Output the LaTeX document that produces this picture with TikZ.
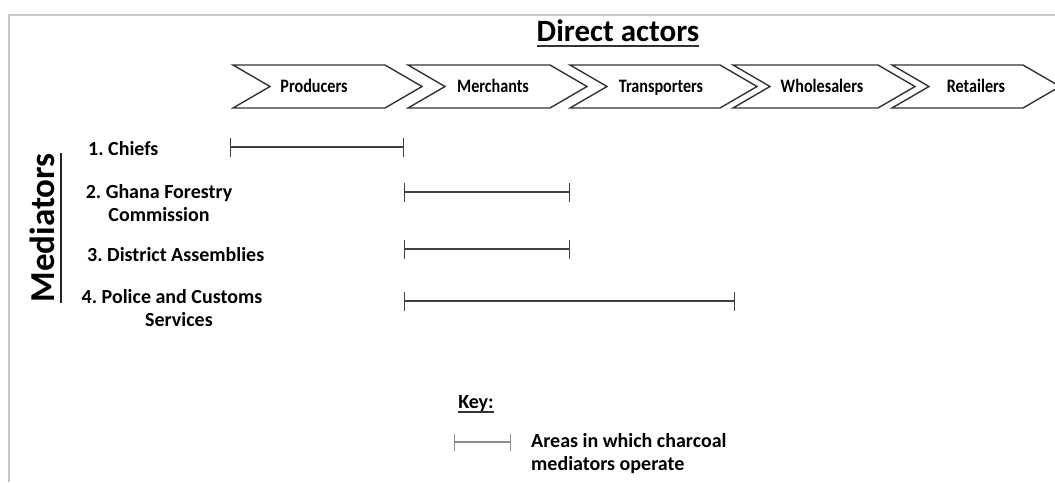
\documentclass[tikz,border=0pt]{standalone}
\usepackage{fontspec}
\setmainfont{Carlito}
\usepackage{tikz}
\usetikzlibrary{arrows.meta}
\frenchspacing

\begin{document}
\begin{tikzpicture}[x=1pt,y=-1pt,font=\bfseries,
actorbox/.style={draw=black!80, line width=1.4pt, line join=miter},
actor/.style={font=\bfseries\fontsize{19}{21}\selectfont, inner sep=0pt, anchor=base},
medlabel/.style={font=\bfseries\fontsize{20}{23}\selectfont, inner sep=0pt},
reach/.style={{Bar[width=19pt]}-{Bar[width=19pt]}, line width=1.1pt, draw=black!75},
head/.style={inner sep=0pt, anchor=base}]
\useasboundingbox (0,0) rectangle (1055,482);
% frame
\draw[black!22, line width=1.5pt] (9,482) -- (9,15) -- (1055,15);
% title
\node[head, font=\bfseries\fontsize{31}{36}\selectfont] (direct) at (618,41) {Direct actors};
\draw[line width=2.4pt, black!80] ([yshift=-5pt]direct.base west) -- ([yshift=-5pt]direct.base east);
% chevrons of the direct actors
\foreach \l/\r/\t/\name/\txt in {233/385/314/prod/Producers, 408/550/493/merch/Merchants,
    570/720/661/trans/Transporters, 733/878/822/whole/Wholesalers, 892/1023/976/retail/Retailers}{
  \draw[actorbox] (\l,65) -- (\r,65) -- (\r+37,86.5) -- (\r,108) -- (\l,108) -- (\l+37,86.5) -- cycle;
  \coordinate (\name-l) at (\l,65);
  \node[actor] (\name) at (\t,92) {\scalebox{0.85}[1]{\txt}};
}
% mediators
\node[head, rotate=90, font=\bfseries\fontsize{35}{40}\selectfont] (med) at (54,228) {Mediators};
\draw[line width=2.4pt, black!85] ([xshift=7pt]med.base west) -- ([xshift=7pt]med.base east);
\node[medlabel, anchor=west] (chiefs) at (88,149) {1. Chiefs};
\node[medlabel, align=center] (forestry) at (159,203) {2. Ghana Forestry\\Commission};
\node[medlabel, anchor=west] (district) at (87,255) {3. District Assemblies};
\node[medlabel, align=center] (police) at (172,308) {4. Police and Customs\\\hspace*{14pt}Services};
% areas of operation
\coordinate (chiefs-a) at (230,147);
\coordinate (chiefs-b) at (404,147);
\coordinate (forestry-a) at (404,192);
\coordinate (forestry-b) at (570,192);
\coordinate (district-a) at (404,249);
\coordinate (district-b) at (570,249);
\coordinate (police-a) at (404,301);
\coordinate (police-b) at (735,301);
\draw[reach] (chiefs-a) -- (chiefs-b);
\draw[reach] (forestry-a) -- (forestry-b);
\draw[reach] (district-a) -- (district-b);
\draw[reach] (police-a) -- (police-b);
% key
\node[head, font=\bfseries\fontsize{20}{23}\selectfont] (key) at (476,408) {Key:};
\draw[line width=1.6pt, black!80] ([yshift=-4pt]key.base west) -- ([yshift=-4pt]key.base east);
\coordinate (key-a) at (454,442);
\coordinate (key-b) at (511,442);
\draw[reach, draw=black!45, {Bar[width=17pt]}-{Bar[width=17pt]}] (key-a) -- (key-b);
\node[medlabel, anchor=north west, align=left] (keytext) at (531,433) {Areas in which charcoal\\mediators operate};
\end{tikzpicture}
\end{document}
